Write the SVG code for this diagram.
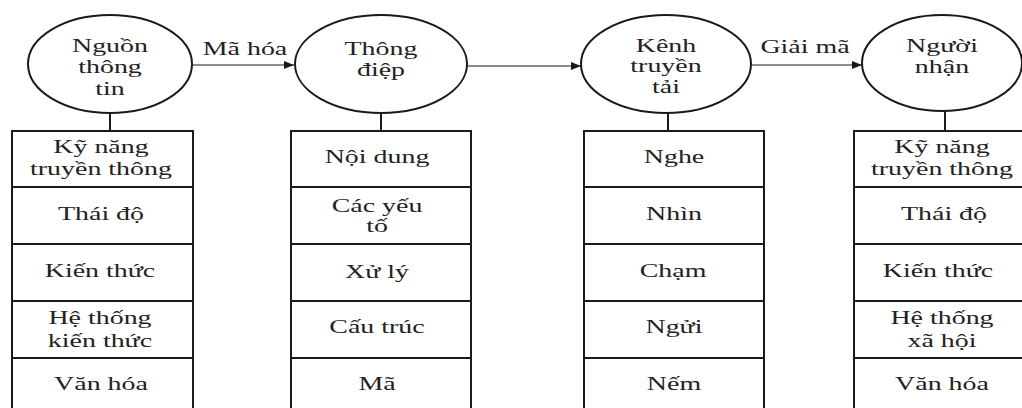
<svg xmlns="http://www.w3.org/2000/svg" width="1022" height="408" viewBox="0 0 1022 408">
<style>
.bg{fill:#fff}
.node ellipse{fill:#fff;stroke:#1a1a1a;stroke-width:2}
.node rect{fill:#fff;stroke:#1a1a1a;stroke-width:2}
.div{stroke:#1a1a1a;stroke-width:2}
.stem{stroke:#1a1a1a;stroke-width:2}
.arrow{stroke:#1a1a1a;stroke-width:1.2;fill:none;marker-end:url(#ah)}
text{font-family:"Liberation Serif","Times New Roman",serif;font-size:19px;fill:#222;text-anchor:middle}
</style>
<defs>
<marker id="ah" viewBox="0 0 10 8" refX="10" refY="4" markerWidth="10" markerHeight="8" markerUnits="userSpaceOnUse" orient="auto">
<path d="M0,0 L10,4 L0,8 Z" fill="#1a1a1a"/>
</marker>
</defs>
<rect class="bg" x="0" y="0" width="1022" height="408"/>

<g id="connectors">
<line class="arrow" x1="192" y1="65" x2="294" y2="65"/>
<line class="arrow" x1="467" y1="66" x2="581" y2="66"/>
<line class="arrow" x1="752" y1="65" x2="862" y2="65"/>
<line class="stem" x1="110" y1="113" x2="110" y2="131"/>
<line class="stem" x1="381" y1="113" x2="381" y2="131"/>
<line class="stem" x1="668" y1="113" x2="668" y2="131"/>
<line class="stem" x1="945" y1="110" x2="945" y2="131"/>
<text transform="translate(245,55) scale(1.47 1)">Mã hóa</text>
<text transform="translate(805,53) scale(1.47 1)">Giải mã</text>
</g>

<g id="node-nguon" class="node">
<ellipse cx="110" cy="64" rx="82" ry="49"/>
<text transform="translate(110,52) scale(1.47 1)"><tspan x="0">Nguồn</tspan><tspan x="0" dy="21.5">thông</tspan><tspan x="0" dy="21.5">tin</tspan></text>
</g>
<g id="node-thongdiep" class="node">
<ellipse cx="381" cy="64" rx="86" ry="49"/>
<text transform="translate(381,55) scale(1.47 1)"><tspan x="0">Thông</tspan><tspan x="0" dy="21.5">điệp</tspan></text>
</g>
<g id="node-kenh" class="node">
<ellipse cx="666" cy="64" rx="85" ry="49"/>
<text transform="translate(666,52) scale(1.47 1)"><tspan x="0">Kênh</tspan><tspan x="0" dy="20.5">truyền</tspan><tspan x="0" dy="20.5">tải</tspan></text>
</g>
<g id="node-nguoinhan" class="node">
<ellipse cx="942" cy="63" rx="80" ry="48"/>
<text transform="translate(942,52) scale(1.47 1)"><tspan x="0">Người</tspan><tspan x="0" dy="21">nhận</tspan></text>
</g>

<g id="box-nguon" class="node">
<rect x="12" y="131" width="181" height="300"/>
<line class="div" x1="12" y1="187" x2="193" y2="187"/>
<line class="div" x1="12" y1="244" x2="193" y2="244"/>
<line class="div" x1="12" y1="301" x2="193" y2="301"/>
<line class="div" x1="12" y1="358" x2="193" y2="358"/>
<text transform="translate(101,153) scale(1.47 1)"><tspan x="0">Kỹ năng</tspan><tspan x="0" dy="22">truyền thông</tspan></text>
<text transform="translate(101,220) scale(1.47 1)">Thái độ</text>
<text transform="translate(100,277) scale(1.47 1)">Kiến thức</text>
<text transform="translate(100,324) scale(1.47 1)"><tspan x="0">Hệ thống</tspan><tspan x="0" dy="23">kiến thức</tspan></text>
<text transform="translate(101,390) scale(1.47 1)">Văn hóa</text>
</g>

<g id="box-thongdiep" class="node">
<rect x="291" y="131" width="180" height="300"/>
<line class="div" x1="291" y1="187" x2="471" y2="187"/>
<line class="div" x1="291" y1="244" x2="471" y2="244"/>
<line class="div" x1="291" y1="301" x2="471" y2="301"/>
<line class="div" x1="291" y1="358" x2="471" y2="358"/>
<text transform="translate(377,163) scale(1.47 1)">Nội dung</text>
<text transform="translate(377,212) scale(1.47 1)"><tspan x="0">Các yếu</tspan><tspan x="0" dy="20">tố</tspan></text>
<text transform="translate(377,278) scale(1.47 1)">Xử lý</text>
<text transform="translate(377,333) scale(1.47 1)">Cấu trúc</text>
<text transform="translate(377,390) scale(1.47 1)">Mã</text>
</g>

<g id="box-kenh" class="node">
<rect x="584" y="131" width="180" height="300"/>
<line class="div" x1="584" y1="187" x2="764" y2="187"/>
<line class="div" x1="584" y1="244" x2="764" y2="244"/>
<line class="div" x1="584" y1="301" x2="764" y2="301"/>
<line class="div" x1="584" y1="358" x2="764" y2="358"/>
<text transform="translate(674,163) scale(1.47 1)">Nghe</text>
<text transform="translate(674,220) scale(1.47 1)">Nhìn</text>
<text transform="translate(673,277) scale(1.47 1)">Chạm</text>
<text transform="translate(674,333) scale(1.47 1)">Ngửi</text>
<text transform="translate(674,390) scale(1.47 1)">Nếm</text>
</g>

<g id="box-nguoinhan" class="node">
<rect x="854" y="131" width="181" height="300"/>
<line class="div" x1="854" y1="187" x2="1035" y2="187"/>
<line class="div" x1="854" y1="244" x2="1035" y2="244"/>
<line class="div" x1="854" y1="301" x2="1035" y2="301"/>
<line class="div" x1="854" y1="358" x2="1035" y2="358"/>
<text transform="translate(942,153) scale(1.47 1)"><tspan x="0">Kỹ năng</tspan><tspan x="0" dy="22">truyền thông</tspan></text>
<text transform="translate(944,220) scale(1.47 1)">Thái độ</text>
<text transform="translate(938,277) scale(1.47 1)">Kiến thức</text>
<text transform="translate(942,324) scale(1.47 1)"><tspan x="0">Hệ thống</tspan><tspan x="0" dy="23">xã hội</tspan></text>
<text transform="translate(942,390) scale(1.47 1)">Văn hóa</text>
</g>
</svg>
